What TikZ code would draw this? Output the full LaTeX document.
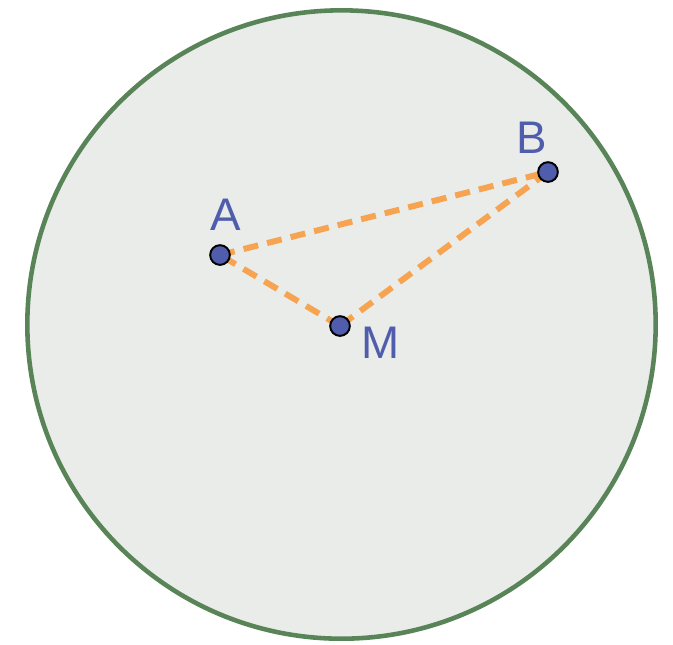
\documentclass[tikz,border=0pt]{standalone}
\usepackage{fontspec}
\setmainfont{Liberation Sans}
\usetikzlibrary{positioning,calc}
\definecolor{discfill}{RGB}{233,236,232}
\definecolor{discline}{RGB}{88,132,88}
\definecolor{ptblue}{RGB}{80,92,172}
\definecolor{segorange}{RGB}{247,164,82}
\tikzset{
  disc/.style={draw=discline, line width=1.3pt, fill=discfill},
  seg/.style={draw=segorange, line width=1.7pt, dash pattern=on 4.3pt off 2.6pt},
  lbl/.style={text=ptblue, inner sep=0pt, font=\fontsize{13}{15}\selectfont},
  pt/.style={draw=black, line width=0.55pt, fill=ptblue}
}

\begin{document}
\begin{tikzpicture}[x=0.01cm, y=-0.01cm, label distance=6.7pt]
  \useasboundingbox (0,0) rectangle (673,644);
  \coordinate (O) at (341.5,324.5);
  \draw[disc] (O) circle [radius=3.14cm];

  \coordinate[label={[lbl,xshift=1.7pt]above:A}] (A) at (220,255);
  \coordinate[label={[lbl,xshift=-4.6pt,yshift=-1.7pt]above:B}] (B) at (548,172);
  \coordinate[label={[lbl,xshift=-0.7pt,yshift=-4.8pt]right:M}] (M) at (340,326);

  \draw[seg] (A) -- (B);
  \draw[seg] (B) -- (M);
  \draw[seg] (M) -- (A);

  \draw[pt] (A) circle [radius=2.8pt];
  \draw[pt] (B) circle [radius=2.8pt];
  \draw[pt] (M) circle [radius=2.8pt];
\end{tikzpicture}
\end{document}
